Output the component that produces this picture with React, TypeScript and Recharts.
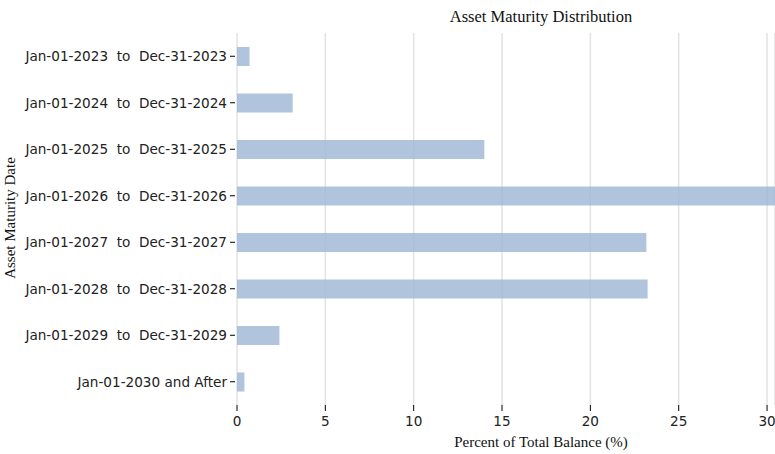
import React from 'react';
import { BarChart, Bar, XAxis, YAxis, CartesianGrid, Label } from 'recharts';

const periods = [
  'Jan-01-2023  to  Dec-31-2023',
  'Jan-01-2024  to  Dec-31-2024',
  'Jan-01-2025  to  Dec-31-2025',
  'Jan-01-2026  to  Dec-31-2026',
  'Jan-01-2027  to  Dec-31-2027',
  'Jan-01-2028  to  Dec-31-2028',
  'Jan-01-2029  to  Dec-31-2029',
  'Jan-01-2030 and After',
];
const percentOfBalance = [0.71, 3.15, 14.0, 30.6, 23.17, 23.24, 2.4, 0.42];
const xTicks = [0, 5, 10, 15, 20, 25, 30];

const data = periods.map((period, i) => ({ period, value: percentOfBalance[i] }));

const serif = '"Liberation Serif", "Times New Roman", serif';
const sans = '"DejaVu Sans", sans-serif';

const PeriodTick = (props: any) => {
  const { x, y, payload } = props;
  return (
    <g>
      <line x1={x + 1} y1={y} x2={x + 6} y2={y} stroke="#000" strokeWidth={1} />
      <text
        x={x - 2}
        y={y}
        dy="0.35em"
        textAnchor="end"
        fontSize={13.6}
        fontFamily={sans}
        fill="#222"
        style={{ whiteSpace: 'pre' }}
      >
        {payload.value}
      </text>
    </g>
  );
};

const App: React.FC = () => {
  return (
    <div style={{ width: 775, height: 454 }}>
      <style>{'body { margin: 0; overflow: hidden; }'}</style>
      <BarChart
        width={775}
        height={454}
        data={data}
        layout="vertical"
        margin={{ top: 33, right: 0, bottom: 0, left: 0 }}
      >
        <text x={541} y={22} textAnchor="middle" fontFamily={serif} fontSize={16.5} fill="#111">
          Asset Maturity Distribution
        </text>
        <CartesianGrid horizontal={false} stroke="#e3e3e3" strokeWidth={1.5} />
        <XAxis
          type="number"
          domain={[0, 30.45]}
          ticks={xTicks}
          allowDataOverflow
          axisLine={false}
          height={49}
          tickSize={6}
          tickMargin={5}
          tickLine={{ stroke: '#000' }}
          tick={{ fontSize: 13.6, fontFamily: sans, fill: '#222' }}
          interval={0}
        >
          <Label
            content={() => (
              <text x={541} y={447} textAnchor="middle" fontFamily={serif} fontSize={15} fill="#111">
                Percent of Total Balance (%)
              </text>
            )}
          />
        </XAxis>
        <YAxis
          type="category"
          dataKey="period"
          width={237}
          axisLine={false}
          tickLine={false}
          tick={<PeriodTick />}
          interval={0}
        >
          <Label
            content={() => (
              <text
                x={15}
                y={218}
                transform="rotate(-90 15 218)"
                textAnchor="middle"
                fontFamily={serif}
                fontSize={15}
                fill="#111"
              >
                Asset Maturity Date
              </text>
            )}
          />
        </YAxis>
        <Bar
          dataKey="value"
          fill="#9cb5d6"
          fillOpacity={0.8}
          barSize={19}
          isAnimationActive={false}
        />
      </BarChart>
    </div>
  );
};

export default App;
